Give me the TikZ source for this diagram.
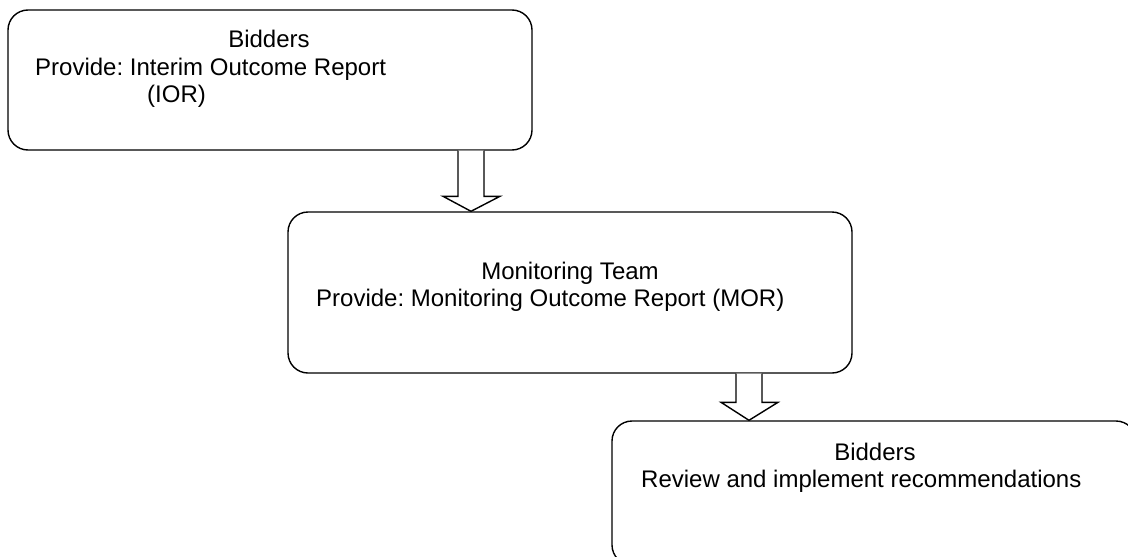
\documentclass[tikz,border=0pt]{standalone}
\usepackage{fontspec}
\setmainfont{Liberation Sans}
\usetikzlibrary{calc}
\frenchspacing
\begin{document}
\begin{tikzpicture}[x=1pt,y=-1pt,
  stage/.style={draw=black,line width=1.4pt,rounded corners=20pt,fill=white,inner sep=0pt},
  label/.style={inner sep=0pt,font=\fontsize{24}{28}\selectfont},
  blockarrow/.style={draw=black,line width=1.4pt,fill=white,line join=miter}]
  \useasboundingbox (0,0) rectangle (1128,557);
  \begin{scope}
  \clip (0,0) rectangle (1128,557);

  % process stages
  \node[stage,minimum width=524pt,minimum height=140pt] (b1) at (270,80) {};
  \node[stage,minimum width=564pt,minimum height=161pt] (b2) at (570,292.5) {};
  \node[stage,minimum width=524pt,minimum height=144pt] (b3) at (874,493) {};

  % texts of the stages
  \node[label,anchor=base] (b1t1) at (269,47) {Bidders};
  \node[label,anchor=base west] (b1t2) at (35,75) {Provide: Interim Outcome Report};
  \node[label,anchor=base west] (b1t3) at (147,102) {(IOR)};

  \node[label,anchor=base] (b2t1) at (570,279) {Monitoring Team};
  \node[label,anchor=base west] (b2t2) at (316,306) {Provide: Monitoring Outcome Report (MOR)};

  \node[label,anchor=base] (b3t1) at (875,460) {Bidders};
  \node[label,anchor=base west] (b3t2) at (641,487) {Review and implement recommendations};

  % block arrows between the stages
  \coordinate (s1) at ([xshift=201pt]b1.south);
  \coordinate (t1) at (s1 |- b2.north);
  \draw[blockarrow] ([xshift=-13pt]s1) -- ([xshift=-13pt,yshift=15pt]t1)
    -- ([xshift=-28pt,yshift=15pt]t1) -- (t1) -- ([xshift=29pt,yshift=15pt]t1)
    -- ([xshift=13pt,yshift=15pt]t1) -- ([xshift=13pt]s1);

  \coordinate (s2) at ([xshift=179pt]b2.south);
  \coordinate (t2) at (s2 |- b3.north);
  \draw[blockarrow] ([xshift=-13pt]s2) -- ([xshift=-13pt,yshift=18pt]t2)
    -- ([xshift=-28pt,yshift=18pt]t2) -- (t2) -- ([xshift=29pt,yshift=18pt]t2)
    -- ([xshift=13pt,yshift=18pt]t2) -- ([xshift=13pt]s2);
  \end{scope}
\end{tikzpicture}
\end{document}
